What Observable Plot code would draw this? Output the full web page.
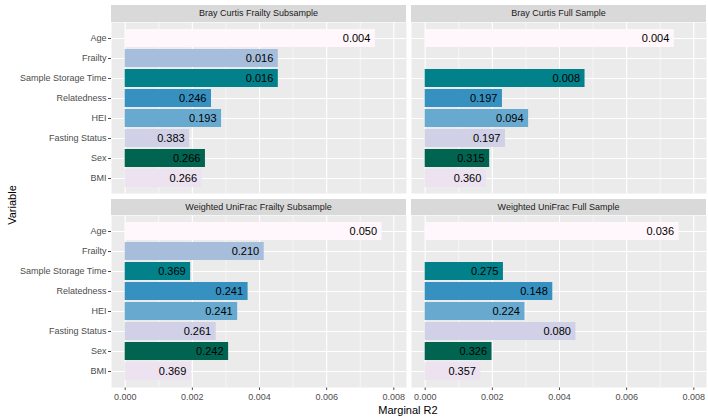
<!DOCTYPE html>
<html>
<head>
<meta charset="utf-8">
<script src="https://cdn.jsdelivr.net/npm/d3@7"></script>
<script src="https://cdn.jsdelivr.net/npm/@observablehq/plot@0.6"></script>
<style>
  html, body { margin: 0; padding: 0; background: #ffffff; }
  #chart { position: relative; width: 708px; height: 418px; font-family: "Liberation Sans", Arial, sans-serif; overflow: hidden; }
  .strip { position: absolute; background: #D9D9D9; color: #1A1A1A; font-size: 9px; text-align: center; }
  .panel { position: absolute; }
  .title { position: absolute; color: #000; font-size: 11px; white-space: nowrap; }
</style>
</head>
<body>
<div id="chart"></div>
<script>
// ---- data ----
const variables = ["Age", "Frailty", "Sample Storage Time", "Relatedness", "HEI", "Fasting Status", "Sex", "BMI"];
const colors = ["#FFF7FB", "#A6BDDB", "#02818A", "#3690C0", "#67A9CF", "#D0D1E6", "#016450", "#ECE2F0"];
const panelTitles = ["Bray Curtis Frailty Subsample", "Bray Curtis Full Sample", "Weighted UniFrac Frailty Subsample", "Weighted UniFrac Full Sample"];

const bcFrailtyValues = [0.00745, 0.00456, 0.00456, 0.00257, 0.00287, 0.00192, 0.00239, 0.00229];
const bcFrailtyLabels = ["0.004", "0.016", "0.016", "0.246", "0.193", "0.383", "0.266", "0.266"];
const bcFullValues = [0.00742, null, 0.00476, 0.00230, 0.00308, 0.00239, 0.00192, 0.00182];
const bcFullLabels = ["0.004", null, "0.008", "0.197", "0.094", "0.197", "0.315", "0.360"];
const wuFrailtyValues = [0.00765, 0.00414, 0.00195, 0.00366, 0.00335, 0.00271, 0.00308, 0.00197];
const wuFrailtyLabels = ["0.050", "0.210", "0.369", "0.241", "0.241", "0.261", "0.242", "0.369"];
const wuFullValues = [0.00756, null, 0.00233, 0.00380, 0.00297, 0.00449, 0.00199, 0.00166];
const wuFullLabels = ["0.036", null, "0.275", "0.148", "0.224", "0.080", "0.326", "0.357"];

const xMajorTicks = [0, 0.002, 0.004, 0.006, 0.008];
const xMinorTicks = [0.001, 0.003, 0.005, 0.007];
const xDomain = [-0.000408, 0.008378];
const xLabel = "Marginal R2";
const yLabel = "Variable";

const panels = [
  {title: panelTitles[0], values: bcFrailtyValues, labels: bcFrailtyLabels, col: 0, row: 0},
  {title: panelTitles[1], values: bcFullValues, labels: bcFullLabels, col: 1, row: 0},
  {title: panelTitles[2], values: wuFrailtyValues, labels: wuFrailtyLabels, col: 0, row: 1},
  {title: panelTitles[3], values: wuFullValues, labels: wuFullLabels, col: 1, row: 1}
];

// ---- layout ----
const chart = document.getElementById("chart");
const colLeft = [111, 411];
const panelW = 295;
const stripTop = [5, 199];
const stripH = [17, 16];
const panelTop = [22, 215];
const panelH = [171, 172];
const axisH = 24;

for (const p of panels) {
  const rows = variables.map((v, i) => ({variable: v, value: p.values[i], label: p.labels[i]}))
    .filter(d => d.value != null);
  const showY = p.col === 0;
  const showX = p.row === 1;
  const mLeft = showY ? colLeft[0] : 0;
  const width = mLeft + panelW;
  const height = panelH[p.row] + (showX ? axisH : 0);

  const strip = document.createElement("div");
  strip.className = "strip";
  strip.style.left = colLeft[p.col] + "px";
  strip.style.top = stripTop[p.row] + "px";
  strip.style.width = panelW + "px";
  strip.style.height = stripH[p.row] + "px";
  strip.style.lineHeight = stripH[p.row] + "px";
  strip.textContent = p.title;
  chart.appendChild(strip);

  const svg = Plot.plot({
    width, height,
    marginLeft: mLeft, marginRight: 0, marginTop: 0, marginBottom: showX ? axisH : 0,
    style: {background: "transparent", fontFamily: "'Liberation Sans', Arial, sans-serif", fontSize: "9px", color: "#4D4D4D", overflow: "visible"},
    x: {domain: xDomain, ticks: xMajorTicks, tickFormat: d3.format(".3f"), tickSize: 3, tickPadding: 3, label: null, axis: showX ? "bottom" : null},
    y: {domain: variables, paddingInner: 0.1, paddingOuter: 0.15, tickSize: 3, tickPadding: 2, label: null, axis: showY ? "left" : null},
    color: {domain: variables, range: colors},
    marks: [
      Plot.frame({fill: "#EBEBEB", stroke: null}),
      Plot.ruleX(xMinorTicks, {x: d => d, stroke: "#ffffff", strokeWidth: 0.55}),
      Plot.ruleX(xMajorTicks, {x: d => d, stroke: "#ffffff", strokeWidth: 1.1}),
      Plot.ruleY(variables, {y: d => d, stroke: "#ffffff", strokeWidth: 1.1}),
      Plot.barX(rows, {y: "variable", x: "value", fill: "variable"}),
      Plot.text(rows, {y: "variable", x: "value", text: "label", textAnchor: "end", dx: -5, fill: "#000000", fontSize: 11})
    ]
  });
  const wrap = document.createElement("div");
  wrap.className = "panel";
  wrap.style.left = (colLeft[p.col] - mLeft) + "px";
  wrap.style.top = panelTop[p.row] + "px";
  wrap.appendChild(svg);
  chart.appendChild(wrap);
}

const xt = document.createElement("div");
xt.className = "title";
xt.textContent = xLabel;
xt.style.left = "408px";
xt.style.top = "410px";
xt.style.transform = "translate(-50%, -50%)";
chart.appendChild(xt);

const yt = document.createElement("div");
yt.className = "title";
yt.textContent = yLabel;
yt.style.left = "12px";
yt.style.top = "205px";
yt.style.transform = "translate(-50%, -50%) rotate(-90deg)";
chart.appendChild(yt);
</script>
</body>
</html>
